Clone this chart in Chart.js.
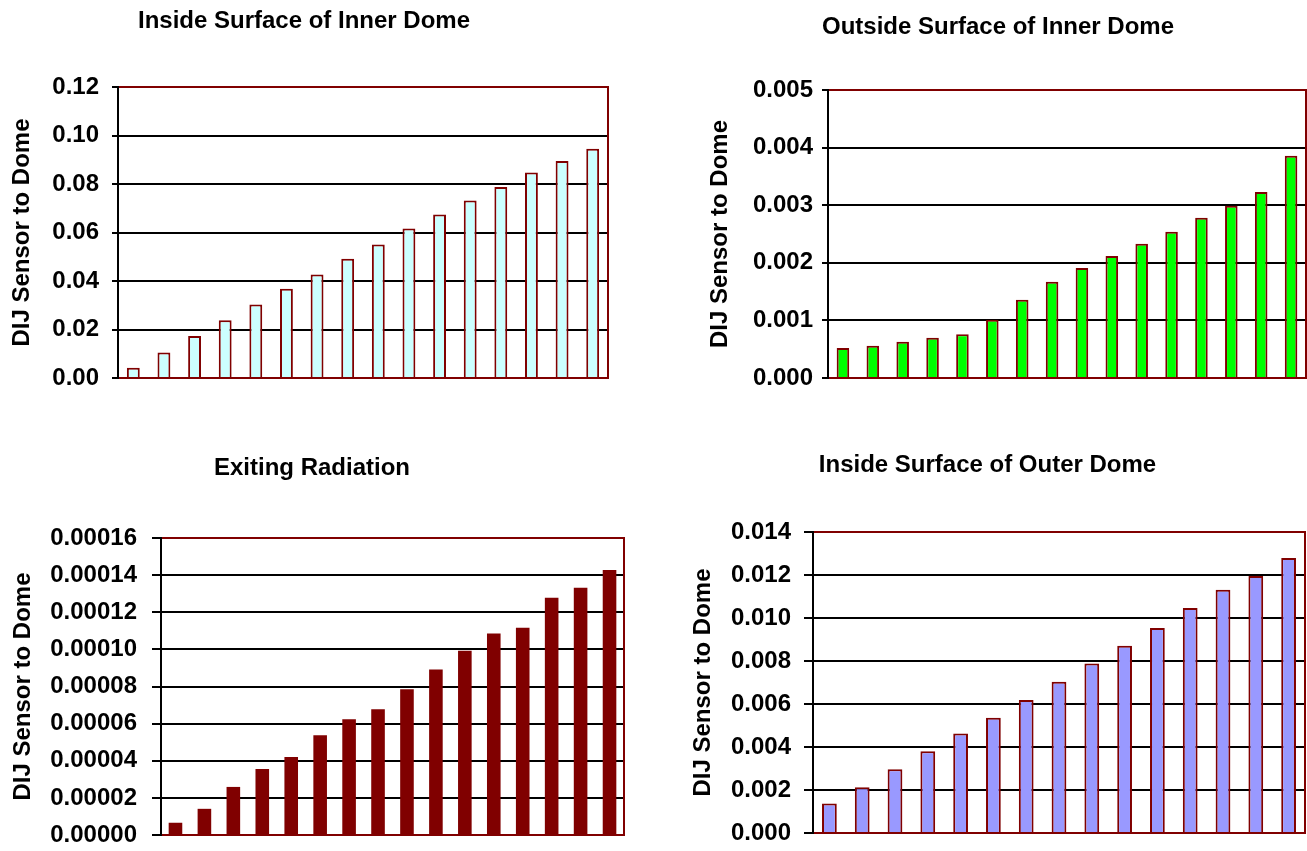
<!DOCTYPE html>
<html>
<head>
<meta charset="utf-8">
<script src="https://cdn.jsdelivr.net/npm/chart.js@4.4.1/dist/chart.umd.min.js"></script>
<style>
  html, body { margin: 0; padding: 0; background: #ffffff; width: 1307px; height: 851px; overflow: hidden; }
  .box { position: absolute; }
</style>
</head>
<body>
<div class="box" id="boxA" style="left:0px;top:0px;width:625px;height:398px;"><canvas id="cA"></canvas></div>
<div class="box" id="boxB" style="left:690px;top:0px;width:617px;height:398px;"><canvas id="cB"></canvas></div>
<div class="box" id="boxC" style="left:0px;top:430px;width:640px;height:421px;"><canvas id="cC"></canvas></div>
<div class="box" id="boxD" style="left:670px;top:430px;width:637px;height:421px;"><canvas id="cD"></canvas></div>
<script>
// ---------- DATA ----------
const categoriesA = ['1','2','3','4','5','6','7','8','9','10','11','12','13','14','15','16'];
const valuesA = [0.0042, 0.0105, 0.0173, 0.0238, 0.0303, 0.0368, 0.0427, 0.0492, 0.0551, 0.0616, 0.0674, 0.0732, 0.0788, 0.0847, 0.0895, 0.0945];
const ticksA = ['0.00','0.02','0.04','0.06','0.08','0.10','0.12'];

const categoriesB = ['1','2','3','4','5','6','7','8','9','10','11','12','13','14','15','16'];
const valuesB = [0.00052, 0.00056, 0.00063, 0.00070, 0.00076, 0.00101, 0.00136, 0.00167, 0.00191, 0.00212, 0.00233, 0.00254, 0.00278, 0.00299, 0.00323, 0.00386];
const ticksB = ['0.000','0.001','0.002','0.003','0.004','0.005'];

const categoriesC = ['1','2','3','4','5','6','7','8','9','10','11','12','13','14','15','16'];
const valuesC = [0.0000066, 0.0000141, 0.0000259, 0.0000356, 0.0000420, 0.0000538, 0.0000624, 0.0000677, 0.0000785, 0.0000892, 0.0000992, 0.0001085, 0.0001117, 0.0001278, 0.0001332, 0.0001428];
const ticksC = ['0.00000','0.00002','0.00004','0.00006','0.00008','0.00010','0.00012','0.00014','0.00016'];

const categoriesD = ['1','2','3','4','5','6','7','8','9','10','11','12','13','14','15'];
const valuesD = [0.00137, 0.00213, 0.00297, 0.00380, 0.00463, 0.00536, 0.00619, 0.00704, 0.00788, 0.00871, 0.00954, 0.01047, 0.01131, 0.01195, 0.01279];
const ticksD = ['0.000','0.002','0.004','0.006','0.008','0.010','0.012','0.014'];

const titles = {
  A: 'Inside Surface of Inner Dome',
  B: 'Outside Surface of Inner Dome',
  C: 'Exiting Radiation',
  D: 'Inside Surface of Outer Dome'
};
const yAxisTitle = 'DIJ Sensor to Dome';

// ---------- STYLE ----------
const FONT = '"Liberation Sans", Arial, Helvetica, sans-serif';
const DARKRED = '#800000';

const framePlugin = {
  id: 'frame',
  afterDatasetsDraw(chart) {
    const ctx = chart.ctx;
    const a = chart.chartArea;
    const l = Math.round(a.left), r = Math.round(a.right), t = Math.round(a.top), b = Math.round(a.bottom);
    ctx.save();
    ctx.lineWidth = 2;
    ctx.strokeStyle = DARKRED;
    ctx.beginPath();
    ctx.moveTo(l, t);
    ctx.lineTo(r, t);
    ctx.lineTo(r, b);
    ctx.lineTo(l, b);
    ctx.stroke();
    ctx.strokeStyle = '#000000';
    ctx.beginPath();
    ctx.moveTo(l, t - 1);
    ctx.lineTo(l, b + 1);
    ctx.stroke();
    ctx.restore();
  }
};

function makeChart(id, cfg) {
  const tickLabels = cfg.ticks;
  return new Chart(document.getElementById(id), {
    type: 'bar',
    data: {
      labels: cfg.categories,
      datasets: [{
        data: cfg.values,
        backgroundColor: cfg.fill,
        borderColor: DARKRED,
        borderWidth: cfg.borderWidth,
        barPercentage: cfg.barPct,
        categoryPercentage: 1.0
      }]
    },
    options: {
      responsive: true,
      maintainAspectRatio: false,
      animation: false,
      events: [],
      layout: { padding: { left: 0, right: cfg.padRight, top: 0, bottom: cfg.padBottom } },
      plugins: {
        legend: { display: false },
        tooltip: { enabled: false },
        title: {
          display: true,
          text: cfg.title,
          color: '#000000',
          font: { family: FONT, size: 24, weight: 'bold' },
          padding: { top: cfg.titlePadTop, bottom: cfg.titlePadBottom }
        }
      },
      scales: {
        x: {
          grid: { display: false },
          ticks: { display: false },
          border: { display: false },
          afterFit(scale) { scale.height = 0; }
        },
        y: {
          min: 0,
          max: cfg.max,
          ticks: {
            stepSize: cfg.step,
            autoSkip: false,
            padding: cfg.tickPad,
            color: '#000000',
            font: { family: FONT, size: 24, weight: 'bold' },
            callback: (v, i) => tickLabels[i]
          },
          grid: {
            color: '#000000',
            lineWidth: 2,
            tickLength: cfg.tickLen,
            tickColor: '#000000'
          },
          border: { display: false },
          title: {
            display: true,
            text: yAxisTitle,
            color: '#000000',
            font: { family: FONT, size: 24, weight: 'bold' },
            padding: { top: cfg.yTitlePad, bottom: 0 }
          },
          afterFit(scale) {
            scale.width = cfg.axisWidth;
            scale.paddingTop = 0;
            scale.paddingBottom = 0;
          }
        }
      }
    },
    plugins: [framePlugin]
  });
}

makeChart('cA', {
  categories: categoriesA, values: valuesA, ticks: ticksA, title: titles.A,
  fill: '#CCFFFF', borderWidth: 2, barPct: 0.42,
  max: 0.12, step: 0.02,
  axisWidth: 118, padRight: 17, padBottom: 20,
  titlePadTop: 7.3, titlePadBottom: 50.9,
  yTitlePad: 8.1, tickLen: 6, tickPad: 13
});

makeChart('cB', {
  categories: categoriesB, values: valuesB, ticks: ticksB, title: titles.B,
  fill: '#00FF00', borderWidth: 2, barPct: 0.42,
  max: 0.005, step: 0.001,
  axisWidth: 138, padRight: 1, padBottom: 20,
  titlePadTop: 12.6, titlePadBottom: 48.6,
  yTitlePad: 15.6, tickLen: 6, tickPad: 9
});

makeChart('cC', {
  categories: categoriesC, values: valuesC, ticks: ticksC, title: titles.C,
  fill: DARKRED, borderWidth: 0, barPct: 0.47,
  max: 0.00016, step: 0.00002,
  axisWidth: 161, padRight: 16, padBottom: 16,
  titlePadTop: 23.6, titlePadBottom: 55.6,
  yTitlePad: 8.6, tickLen: 9, tickPad: 15
});

makeChart('cD', {
  categories: categoriesD, values: valuesD, ticks: ticksD, title: titles.D,
  fill: '#9999FF', borderWidth: 2, barPct: 0.45,
  max: 0.014, step: 0.002,
  axisWidth: 143, padRight: 2, padBottom: 18,
  titlePadTop: 20.6, titlePadBottom: 52.6,
  yTitlePad: 18.6, tickLen: 9, tickPad: 13
});
</script>
</body>
</html>
